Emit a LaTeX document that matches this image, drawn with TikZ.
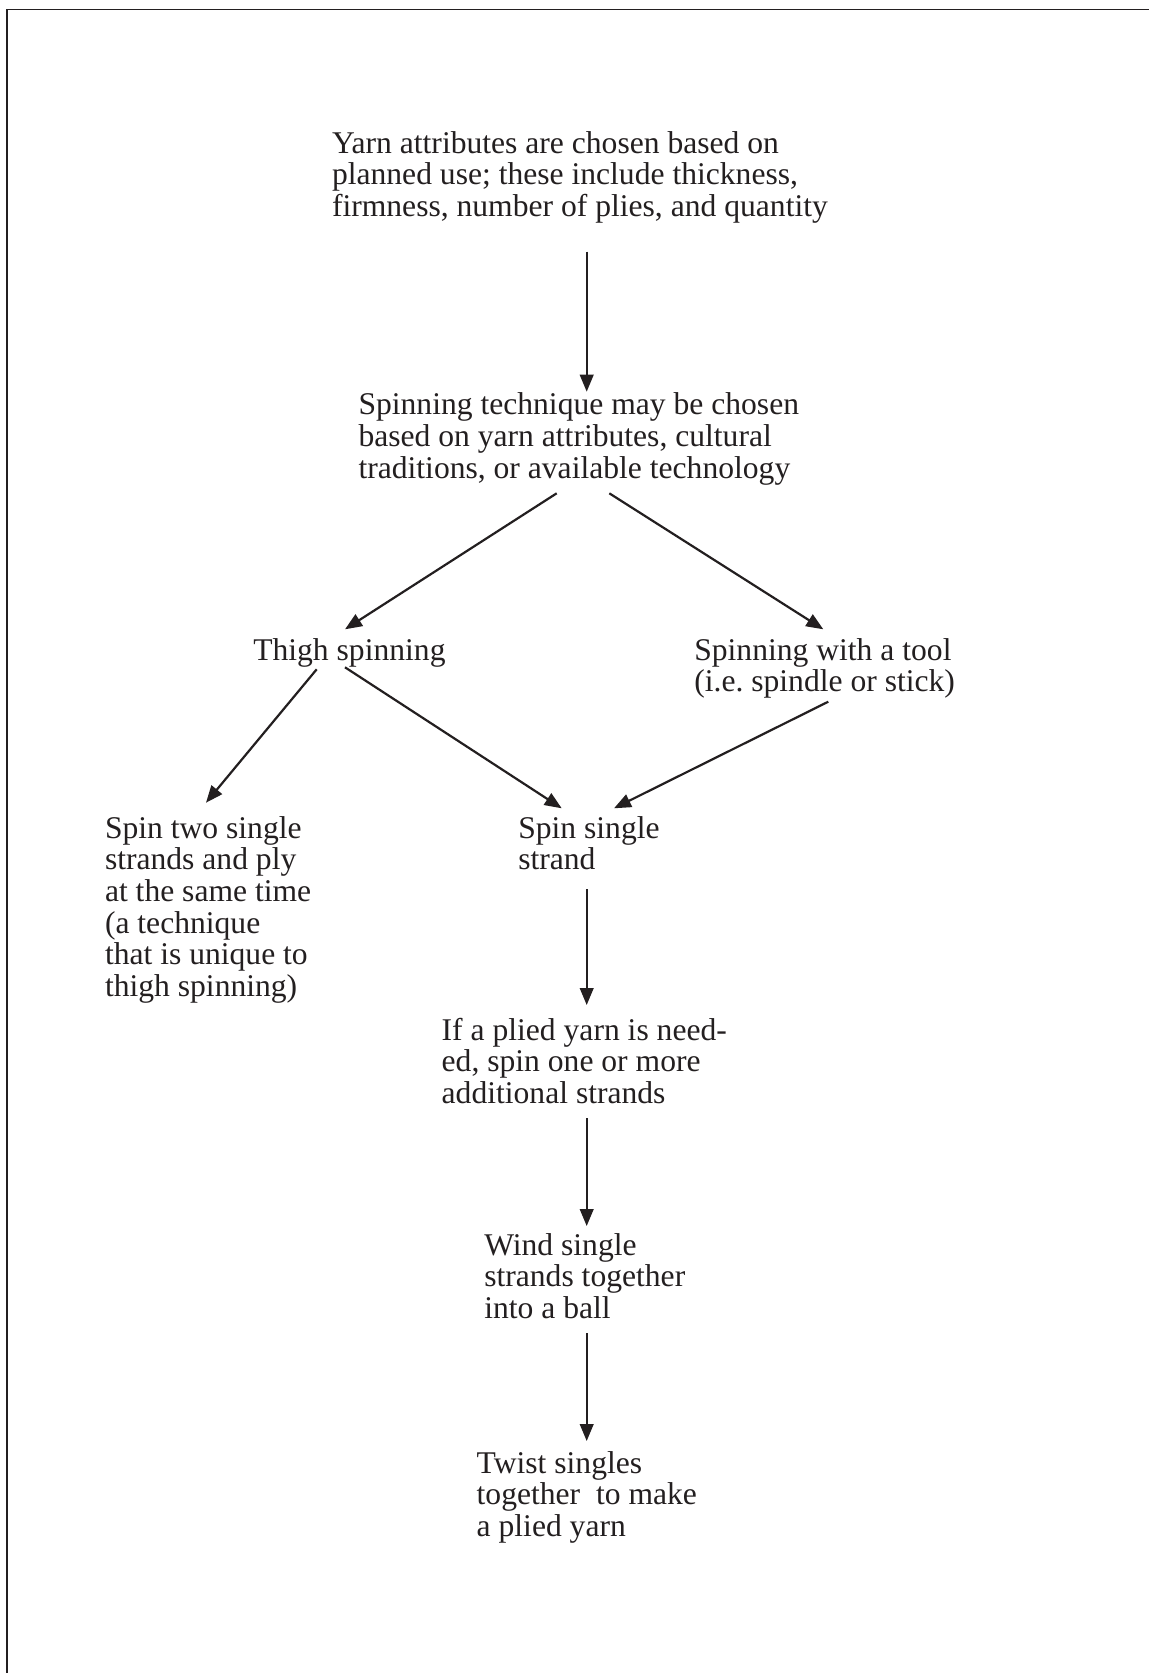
\documentclass[tikz,border=0pt]{standalone}
\usepackage{fontspec}
\setmainfont{Liberation Serif}
\usetikzlibrary{arrows.meta,calc}
\definecolor{ink}{HTML}{231F20}
\frenchspacing
\newcommand\txtlines[1]{\begin{tabular}[t]{@{}l@{}}#1\end{tabular}}
\tikzset{
  lbl/.style={anchor=base west, inner sep=0pt, outer sep=0pt, text=ink,
    font=\fontsize{15.8}{15.8}\selectfont},
  arr/.style={draw=ink, line width=1.1pt, -{Triangle[length=8.5pt,width=6.8pt]}},
  frame/.style={draw=ink, line width=0.8pt}
}
\begin{document}
\begin{tikzpicture}[x=0.5pt,y=-0.5pt]
\useasboundingbox (0,0) rectangle (1149,1673);
\draw[frame] (7,1673) -- (7,9.5) -- (1149,9.5);

\node[lbl] (n1) at (332,153.3) {\txtlines{Yarn attributes are chosen based on\\planned use; these include thickness,\\firmness, number of plies, and quantity}};
\node[lbl] (n2) at (358.5,415) {\txtlines{Spinning technique may be chosen\\based on yarn attributes, cultural\\traditions, or available technology}};
\node[lbl] (thigh) at (253.3,660) {\txtlines{Thigh spinning}};
\node[lbl] (tool) at (694.3,660) {\txtlines{Spinning with a tool\\(i.e. spindle or stick)}};
\node[lbl] (two) at (105,838.3) {\txtlines{Spin two single\\strands and ply\\at the same time\\(a technique\\that is unique to\\thigh spinning)}};
\node[lbl] (single) at (518.3,838) {\txtlines{Spin single\\strand}};
\node[lbl] (plied) at (441.7,1040) {\txtlines{If a plied yarn is need-\\ed, spin one or more\\additional strands}};
\node[lbl] (wind) at (484.3,1255) {\txtlines{Wind single\\strands together\\into a ball}};
\node[lbl] (twist) at (476.7,1473.3) {\txtlines{Twist singles\\together~ to make\\a plied yarn}};

\draw[arr] ($(n1.base west)+(254.7,98.4)$) -- ($(n2.base west)+(228.2,-23.3)$);
\draw[arr] ($(n2.base west)+(198.2,78.3)$) -- ($(thigh.base west)+(91.7,-30.7)$);
\draw[arr] ($(n2.base west)+(250.8,78.3)$) -- ($(tool.base west)+(129,-30.7)$);
\draw[arr] ($(thigh.base west)+(63.4,9.3)$) -- ($(two.base west)+(101,-35.6)$);
\draw[arr] ($(thigh.base west)+(91.7,7.3)$) -- ($(single.base west)+(43.4,-29.7)$);
\draw[arr] ($(tool.base west)+(134,41.7)$) -- ($(single.base west)+(95.7,-29.7)$);
\draw[arr] ($(single.base west)+(68.4,51.3)$) -- ($(plied.base west)+(145,-35)$);
\draw[arr] ($(plied.base west)+(145,78.3)$) -- ($(wind.base west)+(102.4,-29)$);
\draw[arr] ($(wind.base west)+(102.4,78.3)$) -- ($(twist.base west)+(110,-32.3)$);
\end{tikzpicture}
\end{document}
